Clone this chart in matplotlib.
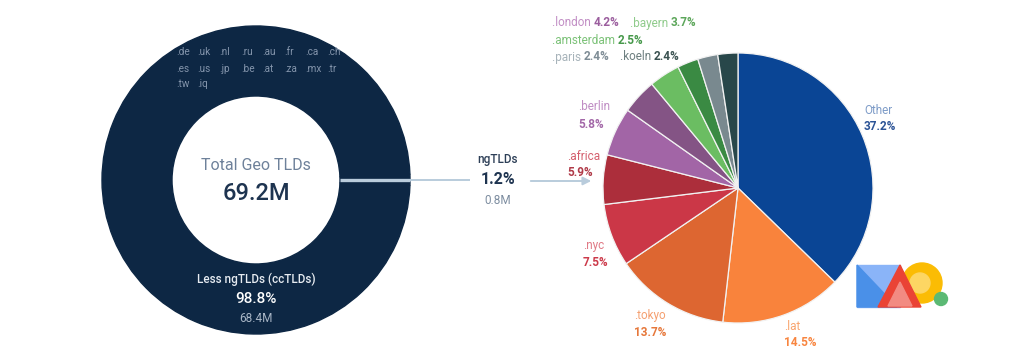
import matplotlib
matplotlib.use("Agg")
import matplotlib.pyplot as plt
from matplotlib.patches import Polygon, Circle, FancyArrowPatch

plt.rcParams['font.family'] = ['Roboto', 'DejaVu Sans']

# ---------------- data ----------------
total_label = "Total Geo TLDs"
total_value = "69.2M"
split_names = ["Less ngTLDs (ccTLDs)", "ngTLDs"]
split_values_m = [68.4, 0.8]
split_pcts = [98.8, 1.2]

cc_codes_rows = [
    [".de", ".uk", ".nl", ".ru", ".au", ".fr", ".ca", ".ch"],
    [".es", ".us", ".jp", ".be", ".at", ".za", ".mx", ".tr"],
    [".tw", ".iq"],
]

ng_names = [".other", ".lat", ".tokyo", ".nyc", ".africa", ".berlin",
            ".london", ".bayern", ".amsterdam", ".paris", ".koeln"]
ng_pcts = [37.2, 14.5, 13.7, 7.5, 5.9, 5.8, 4.2, 3.7, 2.5, 2.4, 2.4]
ng_colors = ["#0A4595", "#F9833C", "#DD6631", "#CB3747", "#AC2E3B", "#A265A6",
             "#845485", "#6BBD62", "#3A8A43", "#79898F", "#28474A"]
ng_name_colors = ["#7E9CC8", "#F9A56F", "#F5A071", "#E07A86", "#D4606E", "#C08DC4",
                  "#C28FC5", "#8FCB8B", "#7CC278", "#A7B3BA", "#6D7F80"]
ng_val_colors = ["#2B5396", "#F8853F", "#E6773A", "#CC3A4A", "#B03A48", "#A368A8",
                 "#9B5E9E", "#5CA65A", "#46984A", "#7E8C95", "#3A5150"]

NAVY = "#0D2744"
LINE = "#B9CCDC"

W, H = 1024, 360
fig = plt.figure(figsize=(W / 100, H / 100), dpi=100)
ax = fig.add_axes([0, 0, 1, 1])

def Y(y):
    return H - y

# ---------------- donut ----------------
ng_share = split_pcts[1]
ax.pie(split_values_m[::-1], center=(256, Y(180)), radius=154,
       colors=[NAVY, NAVY], startangle=ng_share * 180 / 100, counterclock=False,
       wedgeprops=dict(width=154 - 84, linewidth=1.0, edgecolor=NAVY), frame=True)

# country codes
x0, dx = 176, 21.6
row_y = [52, 69, 84]
for r, row in enumerate(cc_codes_rows):
    for i, code in enumerate(row):
        ax.text(x0 + i * dx, Y(row_y[r]), code, color="#8495AC", fontsize=7.2,
                ha="left", va="center")

ax.text(256, Y(166), total_label, color="#6E819A", fontsize=11.5, ha="center", va="center")
ax.text(256, Y(193), total_value, color="#1E3450", fontsize=17, fontweight="medium",
        ha="center", va="center")
ax.text(256, Y(279), split_names[0], color="#E6EBF1", fontsize=8.5, fontweight="medium",
        ha="center", va="center")
ax.text(256, Y(299), f"{split_pcts[0]}%", color="#FFFFFF", fontsize=11, fontweight="medium",
        ha="center", va="center")
ax.text(256, Y(319), f"{split_values_m[0]}M", color="#A9B6C6", fontsize=8.5,
        ha="center", va="center")

# ngTLD connector
ax.plot([340, 410], [Y(180), Y(180)], color=LINE, lw=2.4, solid_capstyle="butt")
ax.plot([410, 470], [Y(180), Y(180)], color=LINE, lw=1.4, solid_capstyle="butt")
ax.text(498, Y(160), split_names[1], color="#2D3F57", fontsize=8.5, fontweight="medium",
        ha="center", va="center")
ax.text(498, Y(180), f"{split_pcts[1]}%", color="#1E3450", fontsize=11.5, fontweight="bold",
        ha="center", va="center")
ax.text(498, Y(200), f"{split_values_m[1]}M", color="#7D8DA0", fontsize=8.5,
        ha="center", va="center")
ax.add_patch(FancyArrowPatch((528, Y(181)), (594, Y(181)), arrowstyle="-|>",
                             mutation_scale=12, color=LINE, lw=1.4))

# ---------------- ngTLD pie ----------------
ax.pie(ng_pcts, center=(738, Y(188)), radius=135, colors=ng_colors, startangle=90,
       counterclock=False, wedgeprops=dict(edgecolor="#F2F2F2", linewidth=0.9), frame=True)

label_pos = {
    ".other": (864, 111, 126, "Other"),
    ".lat": (784, 327, 343, ".lat"),
    ".tokyo": (634, 316, 332, ".tokyo"),
    ".nyc": (583, 246, 263, ".nyc"),
    ".africa": (567, 157, 173, ".africa"),
    ".berlin": (578, 107, 124, ".berlin"),
}
for i, name in enumerate(ng_names):
    if name in label_pos:
        x, yn, yv, txt = label_pos[name]
        ax.text(x, Y(yn), txt, color=ng_name_colors[i], fontsize=8.5, ha="left", va="center")
        ax.text(x, Y(yv), f"{ng_pcts[i]}%", color=ng_val_colors[i], fontsize=8.5,
                fontweight="bold", ha="left", va="center")

inline_pos = {
    ".london": (552, 23), ".bayern": (630, 23), ".amsterdam": (552, 41),
    ".paris": (552, 57), ".koeln": (620, 57),
}
renderer = fig.canvas.get_renderer()
for i, name in enumerate(ng_names):
    if name in inline_pos:
        x, y = inline_pos[name]
        t = ax.text(x, Y(y), name + " ", color=ng_name_colors[i], fontsize=8.5,
                    ha="left", va="center")
        bb = t.get_window_extent(renderer=renderer)
        ax.text(x + bb.width, Y(y), f"{ng_pcts[i]}%", color=ng_val_colors[i], fontsize=8.5,
                fontweight="bold", ha="left", va="center")

# ---------------- watermark logo ----------------
ax.add_patch(Circle((922, Y(283)), 20, color="#FBBC04", zorder=5))
ax.add_patch(Circle((920, Y(283)), 10, color="#FDD663", zorder=5))
ax.add_patch(Polygon([(857, Y(265)), (900, Y(265)), (900, Y(307)), (857, Y(307))],
                     closed=True, color="#8AB4F8", zorder=6))
ax.add_patch(Polygon([(857, Y(265)), (897, Y(307)), (857, Y(307))],
                     closed=True, color="#4A90E8", zorder=6))
ax.add_patch(Polygon([(900, Y(265)), (921, Y(307)), (878, Y(307))],
                     closed=True, color="#EA4335", zorder=7))
ax.add_patch(Polygon([(900, Y(282)), (912, Y(306)), (888, Y(306))],
                     closed=True, color="#F28B82", zorder=7))
ax.add_patch(Circle((941, Y(299)), 6.5, color="#5BB974", zorder=8))

ax.set_xlim(0, W)
ax.set_ylim(0, H)
ax.set_aspect("equal")
ax.axis("off")

fig.savefig("out.png", dpi=100, facecolor="white")
